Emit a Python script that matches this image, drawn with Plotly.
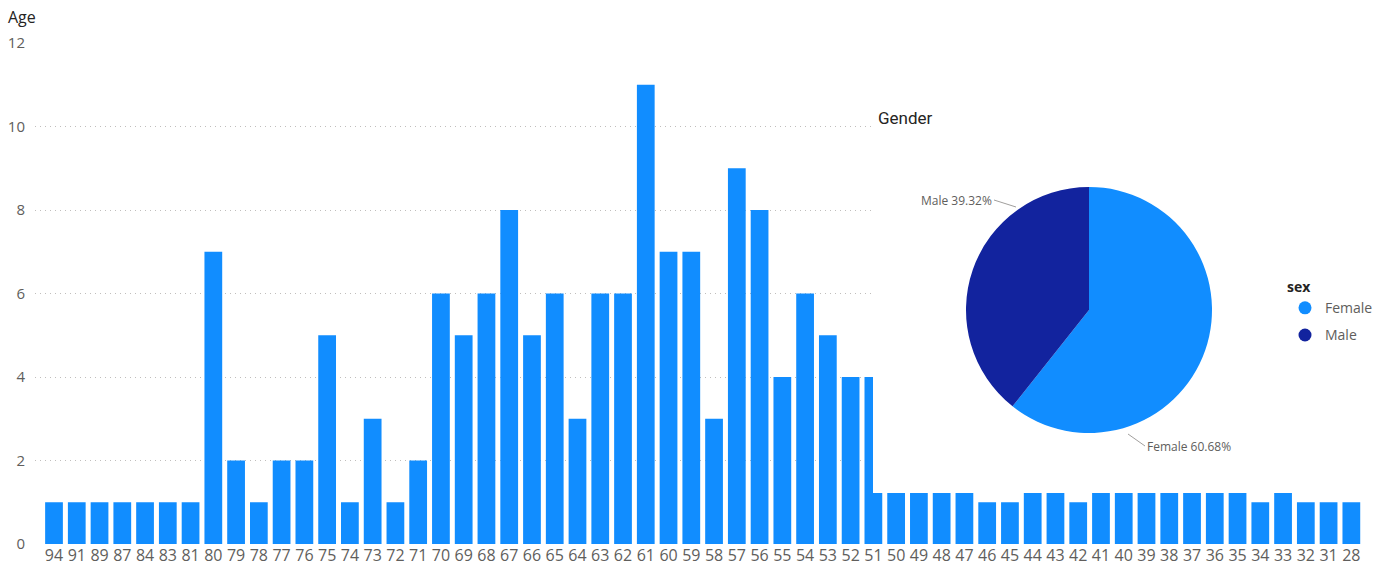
import plotly.graph_objects as go

# ---------------- data ----------------
ages = ["94", "91", "89", "87", "84", "83", "81", "80", "79", "78", "77", "76", "75", "74",
        "73", "72", "71", "70", "69", "68", "67", "66", "65", "64", "63", "62", "61", "60",
        "59", "58", "57", "56", "55", "54", "53", "52", "51", "50", "49", "48", "47", "46",
        "45", "44", "43", "42", "41", "40", "39", "38", "37", "36", "35", "34", "33", "32",
        "31", "28"]
counts = [1, 1, 1, 1, 1, 1, 1, 7, 2, 1, 2, 2, 5, 1,
          3, 1, 2, 6, 5, 6, 8, 5, 6, 3, 6, 6, 11, 7,
          7, 3, 9, 8, 4, 6, 5, 4, 4, 2, 2, 2, 2, 1,
          1, 2, 2, 1, 2, 2, 2, 2, 2, 2, 2, 1, 2, 1,
          1, 1]

sex_labels = ["Female", "Male"]
sex_pct = [60.68, 39.32]
sex_colors = ["#118DFF", "#12239E"]

# ---------------- layout constants ----------------
W, H = 1373, 569
L, R, T, B = 35, 8, 43, 25
PW, PH = W - L - R, H - T - B


def px_x(p):
    return (p - L) / PW


def px_y(p):
    return (H - B - p) / PH


FONT = "Open Sans, Noto Sans, sans-serif"
GRAY = "#605E5C"

fig = go.Figure()

fig.add_trace(go.Bar(
    x=ages, y=counts, marker=dict(color="#118DFF", line=dict(width=0)),
    showlegend=False, hoverinfo="x+y",
))

# white panel of the overlaid pie visual (covers bars behind it)
panel_x = [px_x(873), 1.05, 1.05, px_x(873), px_x(873)]
panel_y = [px_y(493), px_y(493), px_y(95), px_y(95), px_y(493)]
fig.add_trace(go.Scatter(
    x=panel_x, y=panel_y, mode="lines", fill="toself", fillcolor="white",
    line=dict(width=0, color="white"), xaxis="x2", yaxis="y2",
    showlegend=False, hoverinfo="skip",
))

fig.add_trace(go.Pie(
    labels=sex_labels, values=sex_pct, sort=False, direction="clockwise", rotation=0,
    marker=dict(colors=sex_colors, line=dict(width=0)), textinfo="none",
    domain=dict(x=[px_x(966), px_x(1212)], y=[px_y(433), px_y(187)]),
    showlegend=False, hoverinfo="label+percent",
))

# legend entries with circle symbols
for i, (lab, col) in enumerate(zip(sex_labels, sex_colors)):
    fig.add_trace(go.Scatter(
        x=[None], y=[None], mode="markers", name=lab, legendgroup=lab,
        marker=dict(color=col, size=13, symbol="circle"), xaxis="x2", yaxis="y2",
    ))

# pie data labels with leader lines
fig.add_annotation(
    xref="paper", yref="paper", x=px_x(1016), y=px_y(207),
    text=f"{sex_labels[1]} {sex_pct[1]:.2f}%", showarrow=True, arrowhead=0,
    arrowwidth=1, arrowcolor="#A19F9D", ax=-22, ay=-7, xanchor="right",
    font=dict(family=FONT, size=12, color=GRAY),
)
fig.add_annotation(
    xref="paper", yref="paper", x=px_x(1128), y=px_y(434),
    text=f"{sex_labels[0]} {sex_pct[0]:.2f}%", showarrow=True, arrowhead=0,
    arrowwidth=1, arrowcolor="#A19F9D", ax=17, ay=12, xanchor="left",
    font=dict(family=FONT, size=12, color=GRAY),
)

fig.add_annotation(
    xref="paper", yref="paper", x=px_x(876), y=px_y(118), xanchor="left", yanchor="middle",
    text="Gender", showarrow=False, font=dict(family="Roboto, sans-serif", size=17, color="#252423"),
)

fig.update_layout(
    width=W, height=H,
    margin=dict(l=L, r=R, t=T, b=B, autoexpand=False),
    paper_bgcolor="white", plot_bgcolor="white",
    font=dict(family=FONT, color=GRAY),
    title=dict(text="Age", x=8 / W, xanchor="left", y=1 - 17 / H, yanchor="middle",
               font=dict(family=FONT, size=16, color="#252423")),
    bargap=0.22,
    xaxis=dict(type="category", range=[-0.835, 57.6], showgrid=False, zeroline=False,
               showline=False, ticks="", tickfont=dict(size=16, color=GRAY)),
    yaxis=dict(range=[0, 12], dtick=2, showgrid=True, gridcolor="#C0BEBC", griddash="1px,4px",
               gridwidth=1, zeroline=False, showline=False, ticks="", ticklabelstandoff=9,
               tickfont=dict(size=15, color=GRAY)),
    xaxis2=dict(overlaying="x", range=[0, 1], visible=False, anchor="y2"),
    yaxis2=dict(overlaying="y", range=[0, 1], visible=False, anchor="x2"),
    legend=dict(title=dict(text="<b>sex</b>", font=dict(size=14, color="#252423")),
                x=px_x(1285), y=px_y(274), xanchor="left", yanchor="top",
                font=dict(size=14, color=GRAY), tracegroupgap=6, bgcolor="rgba(0,0,0,0)",
                itemwidth=30),
    showlegend=True,
)

fig.write_html("out.html", post_script="document.body.style.margin='0';",
               config={"displayModeBar": False})
